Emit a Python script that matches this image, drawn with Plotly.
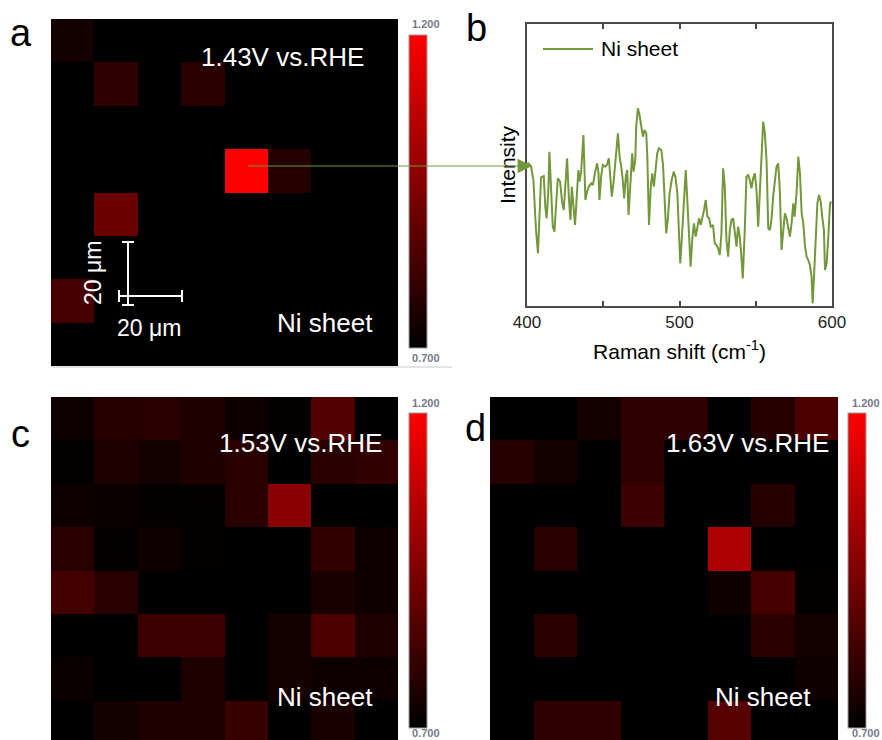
import plotly.graph_objects as go

W, H = 882, 740
FONT = "Arial, 'Liberation Sans', sans-serif"
GREEN = "#72983a"

# ---------------- data ----------------
grid_cols = [0, 1, 2, 3, 4, 5, 6, 7]
grid_rows = [0, 1, 2, 3, 4, 5, 6, 7]

z_143 = [
    [0.74, 0.70, 0.70, 0.70, 0.70, 0.70, 0.70, 0.70],
    [0.70, 0.79, 0.70, 0.78, 0.70, 0.70, 0.70, 0.70],
    [0.70, 0.70, 0.70, 0.70, 0.70, 0.70, 0.70, 0.70],
    [0.70, 0.70, 0.70, 0.70, 1.20, 0.77, 0.70, 0.70],
    [0.70, 0.91, 0.70, 0.70, 0.70, 0.70, 0.70, 0.70],
    [0.70, 0.70, 0.70, 0.70, 0.70, 0.70, 0.70, 0.70],
    [0.84, 0.70, 0.70, 0.70, 0.70, 0.70, 0.70, 0.70],
    [0.70, 0.70, 0.70, 0.70, 0.70, 0.70, 0.70, 0.70],
]

z_153 = [
    [0.73, 0.77, 0.78, 0.76, 0.73, 0.71, 0.86, 0.70],
    [0.71, 0.76, 0.74, 0.76, 0.78, 0.70, 0.78, 0.80],
    [0.73, 0.72, 0.71, 0.71, 0.78, 0.97, 0.70, 0.70],
    [0.78, 0.71, 0.73, 0.71, 0.70, 0.70, 0.80, 0.73],
    [0.83, 0.78, 0.70, 0.70, 0.70, 0.70, 0.75, 0.73],
    [0.70, 0.70, 0.82, 0.82, 0.70, 0.74, 0.85, 0.76],
    [0.72, 0.70, 0.70, 0.76, 0.70, 0.74, 0.73, 0.73],
    [0.70, 0.74, 0.76, 0.76, 0.81, 0.70, 0.75, 0.70],
]

z_163 = [
    [0.70, 0.70, 0.74, 0.79, 0.79, 0.70, 0.77, 0.85],
    [0.77, 0.74, 0.70, 0.79, 0.70, 0.70, 0.70, 0.70],
    [0.70, 0.70, 0.70, 0.82, 0.70, 0.70, 0.77, 0.70],
    [0.70, 0.78, 0.70, 0.70, 0.70, 1.04, 0.70, 0.70],
    [0.70, 0.70, 0.70, 0.70, 0.70, 0.73, 0.84, 0.71],
    [0.70, 0.78, 0.70, 0.70, 0.70, 0.70, 0.78, 0.74],
    [0.70, 0.70, 0.70, 0.70, 0.70, 0.70, 0.70, 0.73],
    [0.70, 0.79, 0.79, 0.70, 0.70, 0.87, 0.70, 0.70],
]

raman_shift = [
    400.4, 402.6, 404.2, 405.9, 407.2, 408.5, 409.2, 411.0, 412.0, 412.9,
    414.0, 414.7, 415.8, 416.9, 418.0, 419.1, 420.2, 421.7, 423.0, 424.1,
    425.0, 426.3, 427.4, 428.5, 429.4, 430.4, 431.5, 432.9, 433.7, 434.4,
    435.5, 437.0, 438.3, 439.4, 440.5, 442.1, 443.2, 444.7, 446.0, 446.9,
    447.5, 448.6, 449.7, 451.3, 452.4, 453.7, 455.0, 455.6, 456.7, 458.5,
    459.6, 460.7, 461.8, 462.9, 463.7, 464.8, 465.7, 466.6, 467.7, 468.6,
    469.0, 469.9, 471.0, 471.6, 472.7, 473.8, 474.9, 476.0, 477.1, 478.2,
    478.9, 480.0, 481.1, 482.1, 483.2, 484.3, 485.4, 486.5, 488.1, 489.2,
    490.3, 491.3, 492.4, 493.5, 494.9, 496.2, 497.3, 498.6, 499.5, 500.5,
    501.6, 503.0, 504.1, 505.1, 506.2, 507.3, 508.4, 509.5, 510.6, 511.7,
    512.8, 513.9, 515.0, 516.1, 517.2, 518.3, 519.4, 520.5, 522.0, 523.1,
    524.2, 525.3, 526.4, 527.5, 528.6, 529.7, 530.8, 531.9, 533.0, 534.1,
    535.2, 536.3, 537.4, 538.4, 539.5, 540.6, 541.5, 542.8, 543.9, 545.0,
    546.1, 547.2, 548.3, 549.4, 550.5, 551.6, 552.7, 553.8, 554.9, 556.0,
    557.1, 558.2, 559.3, 560.4, 561.4, 562.5, 563.6, 564.7, 565.8, 566.9,
    568.0, 569.1, 570.2, 571.3, 572.4, 573.5, 574.6, 575.5, 576.8, 577.9,
    579.0, 580.1, 581.2, 582.3, 583.4, 584.4, 585.5, 586.6, 587.3, 588.2,
    589.3, 590.4, 591.5, 592.6, 593.6, 594.7, 595.4, 596.5, 597.6, 598.7, 599.6,
]

intensity = [
    430, 420, 378, 228, 158, 318, 386, 390, 298, 263,
    348, 463, 318, 238, 223, 318, 383, 373, 313, 288,
    363, 443, 328, 258, 358, 293, 243, 348, 408, 373,
    403, 513, 318, 343, 358, 368, 363, 403, 428, 398,
    318, 388, 423, 418, 423, 443, 358, 328, 368, 478,
    518, 448, 418, 373, 323, 388, 408, 273, 368, 433,
    458, 403, 438, 538, 593, 573, 543, 508, 528, 518,
    448, 243, 353, 398, 358, 403, 458, 473, 468, 423,
    318, 218, 263, 338, 378, 403, 388, 338, 238, 128,
    208, 323, 408, 318, 208, 118, 203, 248, 208, 238,
    263, 243, 263, 288, 318, 268, 263, 238, 243, 188,
    183, 173, 153, 218, 413, 358, 198, 148, 228, 258,
    263, 218, 178, 238, 208, 148, 83, 228, 388, 393,
    378, 353, 383, 398, 348, 238, 328, 448, 553, 518,
    433, 233, 228, 263, 328, 378, 418, 428, 348, 168,
    223, 278, 263, 228, 208, 248, 308, 268, 343, 448,
    398, 278, 248, 178, 148, 138, 123, 88, 8, 88,
    218, 308, 333, 313, 268, 228, 108, 128, 208, 308, 313,
]

x_ticks = [400, 500, 600]
cbar_min, cbar_max = 0.7, 1.2
cbar_labels = ["1.200", "0.700"]
potentials = ["1.43V vs.RHE", "1.53V vs.RHE", "1.63V vs.RHE"]
sample = "Ni sheet"
panel_letters = ["a", "b", "c", "d"]


# ---------------- helpers ----------------
def px(x):
    return x / W


def py(y):
    return 1 - y / H


colorscale = [[0, "#000000"], [1, "#ff0000"]]

fig = go.Figure()


def add_map(z, xa, ya, cb_x, cb_top, cb_bot):
    fig.add_trace(go.Heatmap(
        z=z, x=grid_cols, y=grid_rows, xaxis=xa, yaxis=ya,
        colorscale=colorscale, zmin=cbar_min, zmax=cbar_max,
        hoverinfo="skip",
        colorbar=dict(
            x=px(cb_x), xanchor="left", y=py((cb_top + cb_bot) / 2), yanchor="middle",
            len=cb_bot - cb_top, lenmode="pixels", thickness=18, thicknessmode="pixels",
            outlinewidth=1, outlinecolor="#9a9a9a", showticklabels=False, ticks="",
            xpad=0, ypad=0,
        ),
    ))


add_map(z_143, "x", "y", 409, 35, 348)
add_map(z_153, "x3", "y3", 409, 413, 728)
add_map(z_163, "x4", "y4", 848, 413, 728)

fig.add_trace(go.Scatter(
    x=raman_shift, y=intensity, xaxis="x2", yaxis="y2", mode="lines",
    line=dict(color=GREEN, width=2), name=sample, showlegend=False,
))

hidden = dict(visible=False, showgrid=False, zeroline=False)

fig.update_layout(
    width=W, height=H, margin=dict(l=0, r=0, t=0, b=0, autoexpand=False),
    paper_bgcolor="white", plot_bgcolor="white",
    font=dict(family=FONT, color="#000"),
    showlegend=False,
    xaxis=dict(domain=[px(51), px(398)], range=[-0.5, 7.5], **hidden),
    yaxis=dict(domain=[py(366), py(19)], range=[7.5, -0.5], **hidden),
    xaxis3=dict(domain=[px(51), px(398)], range=[-0.5, 7.5], anchor="y3", **hidden),
    yaxis3=dict(domain=[0, py(397)], range=[7.41, -0.5], anchor="x3", **hidden),
    xaxis4=dict(domain=[px(490), px(838)], range=[-0.5, 7.5], anchor="y4", **hidden),
    yaxis4=dict(domain=[0, py(397)], range=[7.41, -0.5], anchor="x4", **hidden),
    xaxis2=dict(
        domain=[px(527), px(832)], range=[400, 600], anchor="y2",
        showline=True, mirror="ticks", linecolor="#4a4a4a", linewidth=1.5,
        ticks="inside", ticklen=5, tickwidth=1.5, tickcolor="#4a4a4a",
        tickvals=x_ticks, ticktext=[str(v) for v in x_ticks],
        tickfont=dict(size=17, color="#222"),
        minor=dict(dtick=50, ticks="inside", ticklen=5, tickwidth=1.5, tickcolor="#4a4a4a"),
        showgrid=False, zeroline=False,
        title=dict(text="Raman shift (cm<sup>-1</sup>)", font=dict(size=21), standoff=13),
    ),
    yaxis2=dict(
        domain=[py(306), py(24)], range=[0, 846], anchor="x2",
        showline=True, mirror=True, linecolor="#4a4a4a", linewidth=1.5,
        ticks="", showticklabels=False, showgrid=False, zeroline=False,
        title=dict(text="Intensity", font=dict(size=21), standoff=4),
    ),
)

ann = []
shapes = []


def text(x, y, s, size, color="#000", angle=0, xanchor="center"):
    ann.append(dict(x=px(x), y=py(y), xref="paper", yref="paper", text=s, showarrow=False,
                    font=dict(size=size, color=color, family=FONT), textangle=angle,
                    xanchor=xanchor, yanchor="middle"))


def line(x0, y0, x1, y1, color="#fff", width=2):
    shapes.append(dict(type="line", xref="paper", yref="paper", x0=px(x0), y0=py(y0),
                       x1=px(x1), y1=py(y1), line=dict(color=color, width=width)))


# panel letters
text(21, 33, panel_letters[0], 38)
text(476, 28, panel_letters[1], 38)
text(20, 434, panel_letters[2], 38)
text(475, 428, panel_letters[3], 38)

# potentials and sample labels
text(282, 57, potentials[0], 26, "#fff")
text(300, 443, potentials[1], 26, "#fff")
text(747, 443, potentials[2], 26, "#fff")
text(325, 323, sample, 26, "#fff")
text(325, 697, sample, 26, "#fff")
text(763, 697, sample, 26, "#fff")

# colorbar labels
for cx, top, bot in [(426, 24, 358), (426, 403, 733), (866, 403, 733)]:
    text(cx, top, "<b>" + cbar_labels[0] + "</b>", 11, "#737989")
    text(cx, bot, "<b>" + cbar_labels[1] + "</b>", 11, "#737989")

# scale bar in panel a
line(128, 242, 128, 305)
line(122, 242, 134, 242)
line(122, 305, 134, 305)
line(118, 296, 182, 296)
line(119, 290, 119, 302)
line(182, 290, 182, 302)
text(93, 273, "20 μm", 23, "#fff", angle=-90)
text(149, 328, "20 μm", 23, "#fff")

# legend of panel b
line(543, 49, 593, 49, GREEN, 2)
text(599, 49, sample, 21, xanchor="left")

# panel a bottom frame line
line(51, 367, 452, 367, "#c8c8c8", 1)

# arrow from bright pixel to spectrum
ann.append(dict(x=px(532), y=py(166), ax=247 - 532, ay=0, xref="paper", yref="paper",
                axref="pixel", ayref="pixel", text="", showarrow=True, arrowhead=2,
                arrowsize=2.4, arrowwidth=1.2, arrowcolor=GREEN))

fig.update_layout(annotations=ann, shapes=shapes)
fig.write_html("out.html")
